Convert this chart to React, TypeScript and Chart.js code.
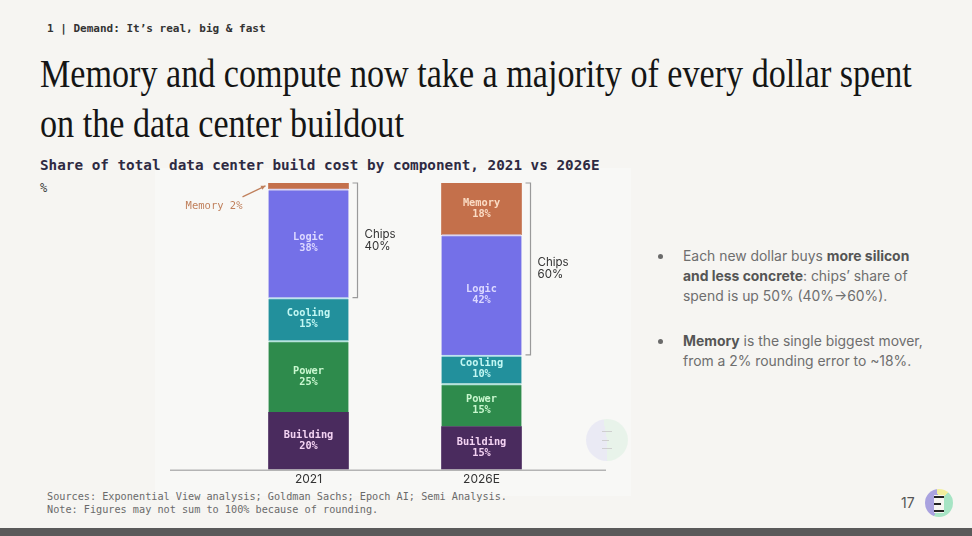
import React, { useEffect, useRef } from "react";
import { Chart, registerables } from "chart.js";
Chart.register(...registerables);

// ---- data ----
const categories = ["2021", "2026E"];
const building = [20, 15];
const power = [25, 15];
const cooling = [15, 10];
const logic = [38, 42];
const memory = [2, 18];

const MONO = "'DejaVu Sans Mono', 'Liberation Mono', monospace";
const SANS = "Inter, 'Noto Sans', sans-serif";

const segmentLabels = {
  id: "segmentLabels",
  afterDatasetsDraw(chart: any) {
    const ctx = chart.ctx;
    ctx.save();
    ctx.textBaseline = "middle";
    chart.data.datasets.forEach((ds: any, di: number) => {
      const meta = chart.getDatasetMeta(di);
      meta.data.forEach((el: any, i: number) => {
        const v = ds.data[i];
        const p = el.getProps(["x", "y", "base", "width"], true);
        const cy = (p.y + p.base) / 2;
        if (v >= 5) {
          ctx.font = `bold 10.3px ${MONO}`;
          ctx.textAlign = "center";
          ctx.fillStyle = ds.labelColor;
          ctx.fillText(ds.label, p.x, cy - 5.5);
          ctx.fillText(v + "%", p.x, cy + 5.5);
        } else {
          ctx.font = `10.5px ${MONO}`;
          const left = p.x - p.width / 2;
          ctx.textAlign = "right";
          ctx.fillStyle = ds.annotColor;
          ctx.fillText(`${ds.label} ${v}%`, left - 26, cy + 20);
          // arrow
          const x1 = left - 26, y1 = cy + 11;
          const x2 = left - 3, y2 = cy;
          ctx.strokeStyle = ds.annotColor;
          ctx.lineWidth = 1.2;
          ctx.beginPath();
          ctx.moveTo(x1, y1);
          ctx.lineTo(x2, y2);
          ctx.stroke();
          const ang = Math.atan2(y2 - y1, x2 - x1);
          ctx.beginPath();
          ctx.moveTo(x2, y2);
          ctx.lineTo(x2 - 5 * Math.cos(ang - 0.45), y2 - 5 * Math.sin(ang - 0.45));
          ctx.lineTo(x2 - 5 * Math.cos(ang + 0.45), y2 - 5 * Math.sin(ang + 0.45));
          ctx.closePath();
          ctx.fillStyle = ds.annotColor;
          ctx.fill();
        }
      });
    });
    ctx.restore();
  },
};

const chipsBracket = {
  id: "chipsBracket",
  afterDatasetsDraw(chart: any) {
    const ctx = chart.ctx;
    const memMeta = chart.getDatasetMeta(4);
    const logMeta = chart.getDatasetMeta(3);
    ctx.save();
    categories.forEach((_c, i) => {
      const m = memMeta.data[i].getProps(["x", "y", "width"], true);
      const l = logMeta.data[i].getProps(["base"], true);
      const top = m.y;
      const bottom = l.base;
      const bx = Math.round(m.x + m.width / 2 + 8) + 0.5;
      ctx.strokeStyle = "#9a9a9a";
      ctx.lineWidth = 1.2;
      ctx.beginPath();
      ctx.moveTo(bx - 5, top);
      ctx.lineTo(bx, top);
      ctx.lineTo(bx, bottom);
      ctx.lineTo(bx - 5, bottom);
      ctx.stroke();
      const mid = (top + bottom) / 2;
      ctx.fillStyle = "#333";
      ctx.font = `11.5px ${SANS}`;
      ctx.textAlign = "left";
      ctx.textBaseline = "middle";
      ctx.fillText("Chips", bx + 7, mid - 6);
      ctx.fillText(`${memory[i] + logic[i]}%`, bx + 7, mid + 6);
    });
    ctx.restore();
  },
};

const baseLine = {
  id: "baseLine",
  afterDatasetsDraw(chart: any) {
    const { ctx, chartArea } = chart;
    ctx.save();
    ctx.strokeStyle = "#b4b4b4";
    ctx.lineWidth = 1.5;
    ctx.beginPath();
    ctx.moveTo(chartArea.left - 52, chartArea.bottom + 0.75);
    ctx.lineTo(chartArea.right + 38, chartArea.bottom + 0.75);
    ctx.stroke();
    ctx.restore();
  },
};

function StackChart() {
  const ref = useRef<HTMLCanvasElement>(null);
  useEffect(() => {
    if (!ref.current) return;
    const mk = (label: string, data: number[], bg: string, border: string, labelColor: string, top: number) => ({
      label,
      data,
      backgroundColor: bg,
      borderColor: border,
      borderWidth: { top, left: 0, right: 0, bottom: 0 },
      borderSkipped: false,
      barThickness: 80,
      labelColor,
      annotColor: "#c0805c",
    });
    const chart = new Chart(ref.current, {
      type: "bar",
      data: {
        labels: categories,
        datasets: [
          mk("Building", building, "#4a2b5e", "#c9d3cf", "#f3d2f2", 0),
          mk("Power", power, "#2e8b4c", "#b6e3dc", "#c9f7cf", 2),
          mk("Cooling", cooling, "#22909c", "#bfe3ee", "#c2f7f3", 2),
          mk("Logic", logic, "#7470e8", "#d9d5f2", "#dcd8ff", 2),
          mk("Memory", memory, "#c4704b", "#f1e3dc", "#fbdcc4", 0),
        ] as any,
      },
      options: {
        responsive: false,
        animation: false,
        layout: { padding: { left: 62, right: 52, top: 13, bottom: 0 } },
        plugins: { legend: { display: false }, tooltip: { enabled: false } },
        scales: {
          x: {
            stacked: true,
            grid: { display: false, drawTicks: false },
            border: { display: false },
            ticks: { color: "#333", font: { family: SANS, size: 12 }, padding: 3 },
          },
          y: { stacked: true, display: false, min: 0, max: 100 },
        },
      },
      plugins: [baseLine, segmentLabels, chipsBracket],
    });
    return () => chart.destroy();
  }, []);
  return <canvas ref={ref} width={460} height={320} style={{ position: "absolute", left: 160, top: 170, width: 460, height: 320 }} />;
}

const abs = (s: React.CSSProperties): React.CSSProperties => ({ position: "absolute", whiteSpace: "nowrap", ...s });

export default function App() {
  return (
    <div style={{ position: "absolute", left: 0, top: 0, width: 972, height: 536, background: "#f6f5f2", overflow: "hidden" }}>
      <div style={abs({ left: 155, top: 168, width: 476, height: 328, background: "#f8f8f6" })} />
      <div style={abs({ left: 47, top: 22, fontFamily: MONO, fontWeight: 700, fontSize: 11, lineHeight: "14px", color: "#333" })}>
        1 | Demand: It’s real, big &amp; fast
      </div>
      <div style={abs({ left: 40, top: 49, fontFamily: "'Liberation Serif', serif", fontSize: 39, lineHeight: "50px", color: "#151515", transform: "scaleX(0.875)", transformOrigin: "0 0" })}>
        Memory and compute now take a majority of every dollar spent
        <br />
        on the data center buildout
      </div>
      <div style={abs({ left: 40, top: 156, fontFamily: MONO, fontWeight: 700, fontSize: 14.3, lineHeight: "18px", color: "#2e2a42" })}>
        Share of total data center build cost by component, 2021 vs 2026E
      </div>
      <div style={abs({ left: 40, top: 181, fontFamily: MONO, fontSize: 12, lineHeight: "14px", color: "#444" })}>%</div>
      <StackChart />
      {/* watermark */}
      <div style={abs({ left: 586, top: 419, width: 42, height: 42, borderRadius: 21, background: "conic-gradient(from 180deg, #eaeaf4 0deg 170deg, #e8f3ea 170deg 360deg)" })}>
        <div style={{ position: "absolute", left: 16, top: 12, width: 10, height: 18, display: "flex", flexDirection: "column", justifyContent: "space-between" }}>
          <div style={{ height: 1, background: "#cfcfcf" }} />
          <div style={{ height: 1, background: "#cfcfcf", marginRight: 3 }} />
          <div style={{ height: 1, background: "#cfcfcf" }} />
        </div>
      </div>
      <div style={abs({ left: 0, top: 490, fontFamily: MONO, fontSize: 10.2, lineHeight: "13px", color: "#6a6a6a", paddingLeft: 47 })}>
        Sources: Exponential View analysis; Goldman Sachs; Epoch AI; Semi Analysis.
        <br />
        Note: Figures may not sum to 100% because of rounding.
      </div>
      {/* bullets */}
      <div style={abs({ left: 658, top: 254, width: 5, height: 5, borderRadius: 3, background: "#6a6a6a" })} />
      <div style={abs({ left: 683, top: 246, fontFamily: SANS, fontSize: 13.9, lineHeight: "20px", color: "#6e6e6e" })}>
        Each new dollar buys <b style={{ color: "#555" }}>more silicon</b>
        <br />
        <b style={{ color: "#555" }}>and less concrete</b>: chips’ share of
        <br />
        spend is up 50% (40%→60%).
      </div>
      <div style={abs({ left: 658, top: 339, width: 5, height: 5, borderRadius: 3, background: "#6a6a6a" })} />
      <div style={abs({ left: 683, top: 331, fontFamily: SANS, fontSize: 13.9, lineHeight: "20px", color: "#6e6e6e" })}>
        <b style={{ color: "#555" }}>Memory</b> is the single biggest mover,
        <br />
        from a 2% rounding error to ~18%.
      </div>
      <div style={abs({ left: 901, top: 494, fontFamily: SANS, fontSize: 14, lineHeight: "18px", color: "#555" })}>17</div>
      <div style={abs({ left: 925, top: 489, width: 28, height: 28, borderRadius: 14, background: "conic-gradient(from 200deg, #a9a2df 0deg 150deg, #f1ee9c 150deg 200deg, #a6e4c4 200deg 360deg)" })}>
        <div style={{ position: "absolute", left: 9, top: 6, width: 10, height: 16, background: "#f6f5f2", display: "flex", flexDirection: "column", justifyContent: "space-between", padding: "1px 0" }}>
          <div style={{ height: 2, background: "#222" }} />
          <div style={{ height: 2, background: "#222", marginRight: 3 }} />
          <div style={{ height: 2, background: "#222" }} />
        </div>
      </div>
      <div style={abs({ left: 0, top: 528, width: 972, height: 8, background: "#5a5a5a" })} />
    </div>
  );
}
